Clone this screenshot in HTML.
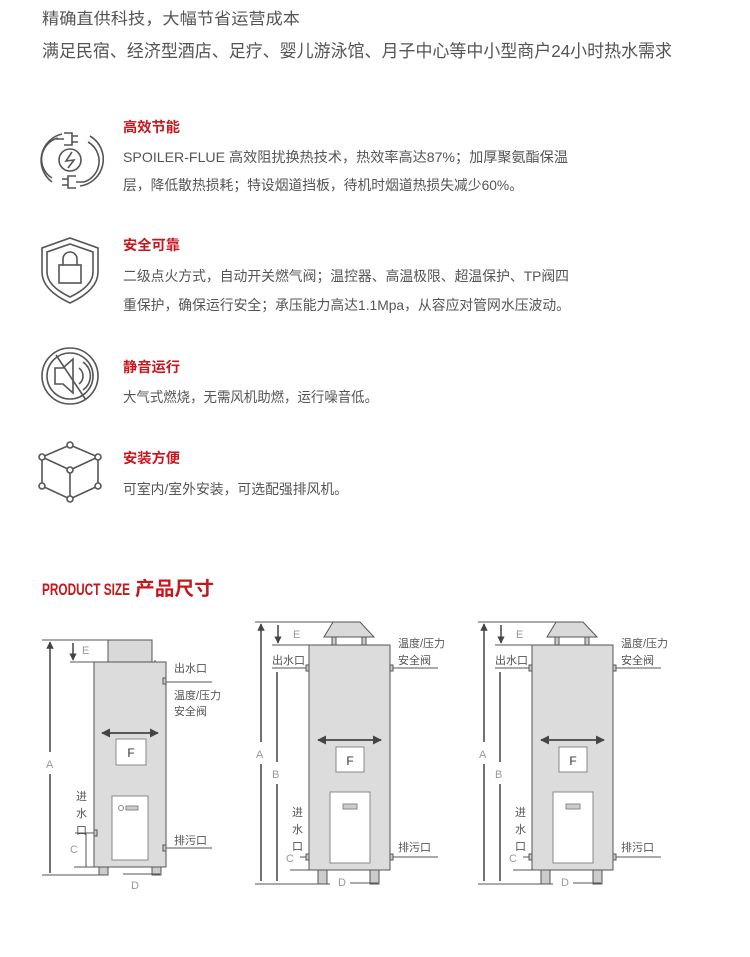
<!DOCTYPE html>
<html><head><meta charset="utf-8"><style>
html,body{margin:0;padding:0;background:#fff;}
svg{display:block;}
text{font-family:"Liberation Sans","Noto Sans CJK SC",sans-serif;}
</style></head><body>
<svg width="750" height="957" viewBox="0 0 750 957" xmlns="http://www.w3.org/2000/svg">
<defs>
<marker id="ar" viewBox="0 0 10 10" refX="9" refY="5" markerWidth="5" markerHeight="5" orient="auto-start-reverse"><path d="M0,0L10,5L0,10z" fill="#444"/></marker>
</defs>
<g fill="#555" font-size="16">
<text x="42" y="24" textLength="258" lengthAdjust="spacingAndGlyphs">精确直供科技，大幅节省运营成本</text>
<text x="42" y="57" font-size="17.5" textLength="630" lengthAdjust="spacingAndGlyphs">满足民宿、经济型酒店、足疗、婴儿游泳馆、月子中心等中小型商户24小时热水需求</text>
</g>
<g fill="#c8161d" font-size="14" font-weight="bold">
<text x="123" y="132" textLength="57" lengthAdjust="spacingAndGlyphs">高效节能</text>
<text x="123" y="250" textLength="57" lengthAdjust="spacingAndGlyphs">安全可靠</text>
<text x="123" y="372" textLength="57" lengthAdjust="spacingAndGlyphs">静音运行</text>
<text x="123" y="463" textLength="57" lengthAdjust="spacingAndGlyphs">安装方便</text>
</g>
<g fill="#555" font-size="14">
<text x="123" y="162" textLength="445" lengthAdjust="spacingAndGlyphs">SPOILER-FLUE  高效阻扰换热技术，热效率高达87%；加厚聚氨酯保温</text>
<text x="123" y="190" textLength="400" lengthAdjust="spacingAndGlyphs">层，降低散热损耗；特设烟道挡板，待机时烟道热损失减少60%。</text>
<text x="123" y="281" textLength="446" lengthAdjust="spacingAndGlyphs">二级点火方式，自动开关燃气阀；温控器、高温极限、超温保护、TP阀四</text>
<text x="123" y="310" textLength="447" lengthAdjust="spacingAndGlyphs">重保护，确保运行安全；承压能力高达1.1Mpa，从容应对管网水压波动。</text>
<text x="123" y="402" textLength="255" lengthAdjust="spacingAndGlyphs">大气式燃烧，无需风机助燃，运行噪音低。</text>
<text x="123" y="494" textLength="225" lengthAdjust="spacingAndGlyphs">可室内/室外安装，可选配强排风机。</text>
</g>
<!-- icons -->
<g fill="none" stroke="#555" stroke-width="1.6">
<path d="M62,134 A27,27 0 0 0 52,182"/><path d="M58,138 A22,22 0 0 0 52,178"/>
<path d="M80,186 A27,27 0 0 0 90,136"/><path d="M84,182 A22,22 0 0 0 88,142"/>
<circle cx="70" cy="160" r="11"/><path d="M72,152 L66,161 L74,160 L68,168"/>
<path d="M64,133h8v12h-8M72,136h6M72,142h6M64,139h-8"/>
<path d="M76,176h-8v12h8M68,179h-6M68,185h-6M76,182h8"/>
<path d="M70,238 L98,248 L98,272 Q98,290 70,303 Q42,290 42,272 L42,248Z"/>
<path d="M70,244 L93,252 L93,272 Q93,286 70,297 Q47,286 47,272 L47,252Z"/>
<rect x="59" y="265" width="22" height="18"/><path d="M63,265v-6a7,7 0 0 1 14,0v6"/>
<circle cx="70" cy="376" r="28"/><circle cx="70" cy="376" r="23"/>
<path d="M55,368h8l10,-9v34l-10,-9h-8z"/><path d="M79,368a10,10 0 0 1 0,16M83,362a17,17 0 0 1 0,28"/>
<path d="M56,355 L86,400"/>
<path d="M70,445 L98,457 L98,486 L70,499 L42,486 L42,457Z"/><path d="M42,457 L70,470 L98,457M70,470V499"/>
<g fill="#fff"><circle cx="70" cy="445" r="3"/><circle cx="98" cy="457" r="3"/><circle cx="98" cy="486" r="3"/><circle cx="70" cy="499" r="3"/><circle cx="42" cy="486" r="3"/><circle cx="42" cy="457" r="3"/><circle cx="70" cy="470" r="3"/></g>
</g>
<text x="42" y="595" fill="#c8161d" font-size="17" font-weight="bold" textLength="88" lengthAdjust="spacingAndGlyphs">PRODUCT SIZE</text>
<text x="135" y="595" fill="#c8161d" font-size="19" font-weight="bold" textLength="79" lengthAdjust="spacingAndGlyphs">产品尺寸</text>

<!-- Diagram 1 -->
<g stroke="#555" stroke-width="1" fill="none">
<rect x="108" y="640" width="44" height="22" fill="#d9d9d9"/>
<rect x="94" y="662" width="72" height="205" fill="#dcdcdc"/>
<rect x="99" y="867" width="9" height="8" fill="#ccc"/><rect x="152" y="867" width="9" height="8" fill="#ccc"/>
<rect x="116" y="739" width="30" height="26" fill="#fff" stroke="#888"/>
<rect x="112" y="796" width="36" height="64" fill="#fff" stroke="#888"/>
<circle cx="121" cy="808" r="2.5" stroke="#888"/><rect x="126" y="806" width="12" height="4" fill="#ccc" stroke="#888"/>
<path d="M42,640H152M70,662H94M42,875H108M123,874H160M166,682H212M166,848H212M75,833H94M86,833V867M74,867H94M155,660V662"/>
<path d="M50,642V873M73,643V660" stroke="#444" stroke-width="1.5" marker-start="url(#ar)" marker-end="url(#ar)"/>
<path d="M102,733H158" stroke="#444" stroke-width="1.8" marker-start="url(#ar)" marker-end="url(#ar)"/>
<rect x="163" y="678" width="3" height="6" fill="#ccc"/><rect x="163" y="845" width="3" height="6" fill="#ccc"/><rect x="94" y="830" width="3" height="6" fill="#ccc"/>
</g>
<rect x="44" y="752" width="12" height="22" fill="#fff"/>
<g fill="#555" font-size="11">
<text x="131" y="757" font-size="12" fill="#333" text-anchor="middle">F</text>
<text x="82" y="654" fill="#999">E</text>
<text x="46" y="768" fill="#999">A</text>
<text x="70" y="853" fill="#999">C</text>
<text x="131" y="889" fill="#999">D</text>
<text x="174" y="672">出水口</text>
<text x="174" y="699">温度/压力</text>
<text x="174" y="715">安全阀</text>
<text x="174" y="844">排污口</text>
<text x="76" y="800">进</text><text x="76" y="817">水</text><text x="76" y="834">口</text>
</g>

<!-- Diagram 2 & 3 -->
<g id="d2">
<g stroke="#555" stroke-width="1" fill="none">
<path d="M333,622H360L374,637H324Z" fill="#d9d9d9"/>
<rect x="332" y="637" width="4" height="8" fill="#ccc"/><rect x="362" y="637" width="4" height="8" fill="#ccc"/>
<rect x="309" y="645" width="81" height="225" fill="#dcdcdc"/>
<rect x="318" y="870" width="9" height="14" fill="#ccc"/><rect x="370" y="870" width="9" height="14" fill="#ccc"/>
<rect x="336" y="747" width="28" height="25" fill="#fff" stroke="#888"/>
<rect x="330" y="792" width="40" height="71" fill="#fff" stroke="#888"/>
<rect x="343" y="804" width="14" height="5" fill="#ccc" stroke="#888"/>
<path d="M255,622H360M272,645H309M272,668H309M390,668H438M255,884H330M350,883H378M390,857H438M300,857H309M290,870H309"/>
<path d="M261,624V881M277,672V881M278,625V643" stroke="#444" stroke-width="1.5" marker-start="url(#ar)" marker-end="url(#ar)"/>
<path d="M318,740H381" stroke="#444" stroke-width="1.8" marker-start="url(#ar)" marker-end="url(#ar)"/>
<rect x="306" y="665" width="3" height="6" fill="#ccc"/><rect x="390" y="665" width="3" height="6" fill="#ccc"/>
<rect x="306" y="854" width="3" height="6" fill="#ccc"/><rect x="390" y="854" width="3" height="6" fill="#ccc"/>
</g>
<rect x="255" y="742" width="12" height="22" fill="#fff"/>
<rect x="271" y="762" width="12" height="22" fill="#fff"/>
<g fill="#555" font-size="11">
<text x="350" y="765" font-size="12" fill="#333" text-anchor="middle">F</text>
<text x="293" y="638" fill="#999">E</text>
<text x="256" y="758" fill="#999">A</text>
<text x="272" y="778" fill="#999">B</text>
<text x="286" y="862" fill="#999">C</text>
<text x="338" y="886" fill="#999">D</text>
<text x="272" y="664">出水口</text>
<text x="398" y="647">温度/压力</text>
<text x="398" y="664">安全阀</text>
<text x="398" y="851">排污口</text>
<text x="292" y="816">进</text><text x="292" y="833">水</text><text x="292" y="850">口</text>
</g>
</g>
<use href="#d2" transform="translate(223,0)"/>
</svg>
</body></html>
